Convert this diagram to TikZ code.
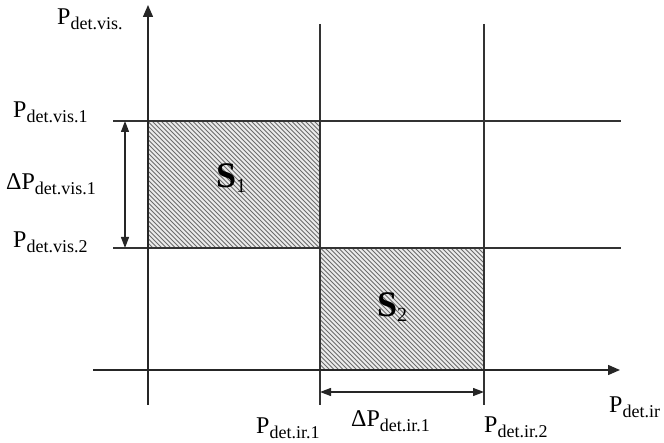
\documentclass[tikz,border=0pt]{standalone}
\usepackage{fontspec}
\setmainfont{Liberation Serif}
\usetikzlibrary{arrows.meta}
\newcommand{\Plab}[2]{{\fontsize{24}{26}\selectfont #1}\raisebox{-5pt}{\fontsize{18}{19}\selectfont #2}}
\newcommand{\Slab}[2]{{\fontsize{36}{37}\selectfont\bfseries #1}\raisebox{-5pt}{\fontsize{20}{21}\selectfont #2}}
\begin{document}
\begin{tikzpicture}[x=1pt,y=-1pt,
  axisline/.style={line width=1.4pt,draw=black!85,-{Triangle[length=12pt,width=10pt]}},
  gridline/.style={line width=1.3pt,draw=black!80},
  dimarrow/.style={line width=1.3pt,draw=black!85,{Triangle[length=11pt,width=8pt]}-{Triangle[length=11pt,width=8pt]}},
  hatch/.style={line width=1pt,draw=black!58},
  lab/.style={inner sep=0pt,anchor=base west,text=black}]
\useasboundingbox (0,0) rectangle (664,443);
% coordinates
\coordinate (vaxB) at (148,405);
\coordinate (vaxT) at (148,5);
\coordinate (haxL) at (93,370);
\coordinate (haxR) at (620,370);
\coordinate (v1T) at (320,24);
\coordinate (v1B) at (320,405);
\coordinate (v2T) at (484,24);
\coordinate (v2B) at (484,405);
\coordinate (h1L) at (113,121);
\coordinate (h1R) at (621,121);
\coordinate (h2L) at (113,248);
\coordinate (h2R) at (621,248);
\coordinate (dvT) at (125,121);
\coordinate (dvB) at (125,248);
\coordinate (dhL) at (320,392);
\coordinate (dhR) at (484,392);
% hatched areas
\fill[black!8] (148,121) rectangle (320,248);
\begin{scope}
\clip (148,121) rectangle (320,248);
\foreach \i in {-140,-135.5,...,330} \draw[hatch] (148+\i,121) -- ++(140,140);
\end{scope}
\fill[black!8] (320,248) rectangle (484,370);
\begin{scope}
\clip (320,248) rectangle (484,370);
\foreach \i in {-130,-125.5,...,170} \draw[hatch] (320+\i,248) -- ++(130,130);
\end{scope}
\draw[line width=0.8pt,black!85] (148,121) rectangle (320,248);
\draw[line width=0.8pt,black!85] (320,248) rectangle (484,370);
% grid lines
\draw[gridline] (v1T) -- (v1B);
\draw[gridline] (v2T) -- (v2B);
\draw[gridline] (h1L) -- (h1R);
\draw[gridline] (h2L) -- (h2R);
% axes
\draw[axisline] (vaxB) -- (vaxT);
\draw[axisline] (haxL) -- (haxR);
% dimension arrows
\draw[dimarrow] (dvT) -- (dvB);
\draw[dimarrow] (dhL) -- (dhR);
% labels
\node[lab] (ly) at (57,25) {\Plab{P}{det.vis.}};
\node[lab] (lv1) at (13,118) {\Plab{P}{det.vis.1}};
\node[lab] (ldv) at (6,190) {\Plab{ΔP}{det.vis.1}};
\node[lab] (lv2) at (13,248) {\Plab{P}{det.vis.2}};
\node[lab] (lx) at (609,413) {\Plab{P}{det.ir}};
\node[lab] (li1) at (256,434) {\Plab{P}{det.ir.1}};
\node[lab] (ldi) at (351,427) {\Plab{ΔP}{det.ir.1}};
\node[lab] (li2) at (484,432) {\Plab{P}{det.ir.2}};
\node[lab] (s1) at (216,188) {\Slab{S}{1}};
\node[lab] (s2) at (377,317) {\Slab{S}{2}};
\end{tikzpicture}
\end{document}
